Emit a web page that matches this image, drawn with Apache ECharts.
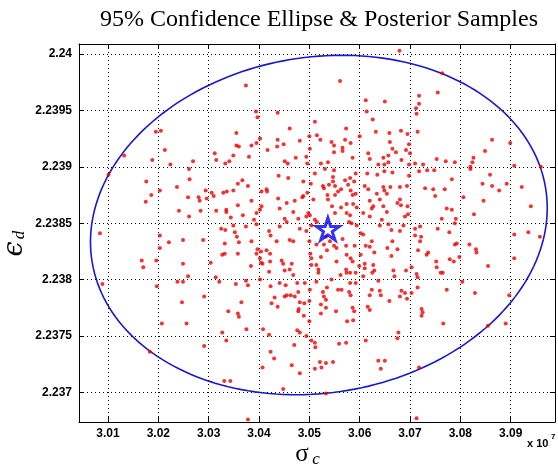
<!DOCTYPE html>
<html>
<head>
<meta charset="utf-8">
<script src="https://cdn.jsdelivr.net/npm/echarts@6/dist/echarts.min.js"></script>
<style>
  html, body { margin: 0; padding: 0; background: #fff; }
  #main { width: 558px; height: 468px; }
</style>
</head>
<body>
<div id="main"></div>
<script>
// sigma_c in units of 1e7, epsilon_d
const samples = [
  [3.0195,2.23931],[3.0205,2.23932],[3.0213,2.23915],[3.0132,2.23910],[3.0188,2.23906],[3.0224,2.23902],[3.0101,2.23893],[3.0176,2.23887],
  [3.0237,2.23882],[3.0203,2.23879],[3.0186,2.23875],[3.0175,2.23869],[3.0241,2.23861],[3.0084,2.23841],[3.0203,2.23839],[3.0221,2.23833],
  [3.0203,2.23828],[3.0167,2.23817],[3.0196,2.23817],[3.0170,2.23811],[3.0089,2.23796],[3.0238,2.23798],[3.0197,2.23794],[3.0207,2.23761],
  [3.0183,2.23736],
  [3.0394,2.23949],[3.0397,2.23944],[3.0437,2.23948],[3.0511,2.23940],[3.0461,2.23934],[3.0355,2.23930],[3.0500,2.23927],[3.0515,2.23928],
  [3.0402,2.23925],[3.0437,2.23924],[3.0355,2.23919],[3.0360,2.23918],[3.0385,2.23919],[3.0395,2.23921],[3.0449,2.23920],[3.0481,2.23923],
  [3.0436,2.23918],[3.0417,2.23915],[3.0501,2.23916],[3.0312,2.23912],[3.0349,2.23910],[3.0380,2.23909],[3.0315,2.23906],[3.0269,2.23905],
  [3.0341,2.23905],[3.0333,2.23903],[3.0451,2.23905],[3.0457,2.23903],[3.0473,2.23908],[3.0494,2.23909],[3.0496,2.23903],[3.0261,2.23898],
  [3.0511,2.23894],[3.0439,2.23892],[3.0458,2.23890],[3.0262,2.23889],[3.0367,2.23888],[3.0358,2.23885],[3.0488,2.23887],[3.0503,2.23885],
  [3.0294,2.23879],[3.0306,2.23877],[3.0310,2.23874],[3.0329,2.23877],[3.0336,2.23878],[3.0349,2.23879],[3.0378,2.23883],[3.0405,2.23878],
  [3.0415,2.23880],[3.0416,2.23878],[3.0259,2.23873],[3.0280,2.23873],[3.0282,2.23870],[3.0296,2.23872],[3.0385,2.23870],[3.0438,2.23872],
  [3.0471,2.23870],[3.0488,2.23874],[3.0486,2.23873],[3.0496,2.23877],[3.0508,2.23871],[3.0358,2.23866],[3.0405,2.23865],[3.0402,2.23862],
  [3.0455,2.23868],[3.0441,2.23863],[3.0284,2.23861],[3.0315,2.23861],[3.0335,2.23862],[3.0335,2.23860],[3.0368,2.23857],[3.0395,2.23859],
  [3.0261,2.23856],[3.0344,2.23855],[3.0468,2.23860],[3.0498,2.23859],[3.0501,2.23857],[3.0494,2.23856],[3.0390,2.23853],[3.0395,2.23849],
  [3.0451,2.23854],[3.0455,2.23851],[3.0478,2.23854],[3.0511,2.23853],[3.0515,2.23851],[3.0374,2.23847],[3.0325,2.23845],[3.0441,2.23847],
  [3.0481,2.23845],[3.0504,2.23848],[3.0349,2.23848],
  [3.0374,2.23972],[3.0679,2.24003],[3.0561,2.23976],[3.0764,2.23983],[3.0755,2.23966],[3.0718,2.23963],
  [3.0863,2.23924],[3.0899,2.23921],[3.0849,2.23914],[3.0826,2.23908],[3.0824,2.23904],[3.0907,2.23901],[3.0960,2.23900],[3.0820,2.23900],
  [3.0820,2.23898],[3.0859,2.23893],[3.0844,2.23885],[3.0863,2.23883],[3.0877,2.23879],[3.0892,2.23885],[3.0922,2.23882],[3.0846,2.23870],
  [3.0806,2.23873],[3.0827,2.23858],[3.0940,2.23865],[3.0907,2.23840],[3.0935,2.23842],[3.0958,2.23838],
  [3.0612,2.23959],[3.0650,2.23958],[3.0712,2.23952],[3.0713,2.23947],[3.0718,2.23956],[3.0614,2.23949],[3.0626,2.23942],[3.0573,2.23934],
  [3.0600,2.23927],[3.0632,2.23931],[3.0659,2.23930],[3.0682,2.23932],[3.0695,2.23929],[3.0715,2.23931],[3.0522,2.23924],[3.0544,2.23922],
  [3.0549,2.23919],[3.0571,2.23924],[3.0582,2.23921],[3.0566,2.23917],[3.0566,2.23914],[3.0549,2.23913],[3.0660,2.23922],[3.0665,2.23916],
  [3.0672,2.23913],[3.0698,2.23920],[3.0692,2.23915],[3.0700,2.23912],[3.0617,2.23912],[3.0620,2.23907],[3.0647,2.23908],[3.0657,2.23910],
  [3.0683,2.23906],[3.0586,2.23908],[3.0537,2.23904],[3.0523,2.23903],[3.0637,2.23902],[3.0649,2.23902],[3.0657,2.23904],[3.0698,2.23902],
  [3.0710,2.23903],[3.0726,2.23902],[3.0753,2.23907],[3.0771,2.23905],[3.0789,2.23904],[3.0531,2.23898],[3.0549,2.23897],[3.0592,2.23894],
  [3.0615,2.23894],[3.0649,2.23896],[3.0665,2.23895],[3.0635,2.23893],[3.0718,2.23896],[3.0734,2.23897],[3.0748,2.23897],[3.0783,2.23889],
  [3.0547,2.23891],[3.0547,2.23887],[3.0571,2.23888],[3.0581,2.23890],[3.0589,2.23887],[3.0698,2.23892],[3.0527,2.23883],[3.0529,2.23881],
  [3.0539,2.23884],[3.0551,2.23883],[3.0563,2.23880],[3.0557,2.23878],[3.0577,2.23884],[3.0582,2.23879],[3.0610,2.23883],[3.0617,2.23880],
  [3.0647,2.23882],[3.0649,2.23879],[3.0661,2.23882],[3.0680,2.23882],[3.0694,2.23883],[3.0730,2.23881],[3.0746,2.23880],[3.0750,2.23874],
  [3.0769,2.23880],[3.0536,2.23875],[3.0537,2.23871],[3.0551,2.23875],[3.0586,2.23875],[3.0592,2.23876],[3.0634,2.23876],[3.0640,2.23871],
  [3.0654,2.23876],[3.0620,2.23870],[3.0680,2.23871],[3.0675,2.23868],[3.0545,2.23865],[3.0563,2.23864],[3.0574,2.23867],[3.0587,2.23867],
  [3.0594,2.23864],[3.0624,2.23863],[3.0627,2.23865],[3.0647,2.23865],[3.0695,2.23865],[3.0682,2.23866],[3.0773,2.23863],[3.0783,2.23862],
  [3.0551,2.23859],[3.0574,2.23859],[3.0581,2.23857],[3.0607,2.23859],[3.0654,2.23860],[3.0690,2.23856],[3.0696,2.23858],[3.0620,2.23856],
  [3.0579,2.23851],[3.0584,2.23850],[3.0594,2.23848],[3.0644,2.23853],[3.0657,2.23849],[3.0640,2.23848],[3.0663,2.23844],[3.0687,2.23848],
  [3.0710,2.23845],[3.0720,2.23847],[3.0755,2.23845],[3.0763,2.23854],[3.0791,2.23854],[3.0789,2.23850],
  [3.0249,2.23835],[3.0289,2.23835],[3.0333,2.23844],[3.0352,2.23842],[3.0356,2.23838],[3.0360,2.23833],[3.0332,2.23832],[3.0385,2.23834],
  [3.0420,2.23843],[3.0423,2.23839],[3.0435,2.23834],[3.0461,2.23835],[3.0468,2.23834],[3.0494,2.23843],[3.0500,2.23834],[3.0514,2.23831],
  [3.0327,2.23822],[3.0332,2.23823],[3.0358,2.23823],[3.0397,2.23827],[3.0395,2.23823],[3.0404,2.23825],[3.0415,2.23826],[3.0422,2.23823],
  [3.0402,2.23819],[3.0404,2.23815],[3.0407,2.23814],[3.0422,2.23816],[3.0445,2.23817],[3.0448,2.23814],[3.0465,2.23814],[3.0502,2.23823],
  [3.0504,2.23819],[3.0504,2.23813],[3.0514,2.23813],[3.0518,2.23809],[3.0518,2.23806],[3.0304,2.23815],[3.0249,2.23814],[3.0384,2.23812],
  [3.0420,2.23807],[3.0451,2.23808],[3.0461,2.23809],[3.0468,2.23804],[3.0259,2.23803],[3.0249,2.23798],[3.0314,2.23802],[3.0321,2.23798],
  [3.0354,2.23796],[3.0374,2.23799],[3.0378,2.23795],[3.0402,2.23800],[3.0423,2.23794],[3.0441,2.23797],[3.0453,2.23795],[3.0476,2.23797],
  [3.0491,2.23797],[3.0501,2.23791],[3.0514,2.23798],[3.0247,2.23780],[3.0291,2.23785],[3.0365,2.23780],[3.0339,2.23772],[3.0358,2.23770],
  [3.0360,2.23767],[3.0425,2.23779],[3.0437,2.23776],[3.0431,2.23784],[3.0451,2.23785],[3.0455,2.23786],[3.0463,2.23786],[3.0471,2.23785],
  [3.0478,2.23789],[3.0481,2.23780],[3.0490,2.23779],[3.0500,2.23781],[3.0479,2.23774],[3.0478,2.23772],[3.0489,2.23768],[3.0500,2.23763],
  [3.0256,2.23761],[3.0375,2.23756],[3.0408,2.23756],[3.0327,2.23753],[3.0335,2.23746],[3.0420,2.23751],[3.0476,2.23755],[3.0481,2.23753],
  [3.0494,2.23750],[3.0504,2.23746],[3.0511,2.23744],[3.0512,2.23740],[3.0291,2.23741],[3.0470,2.23742],[3.0423,2.23736],[3.0430,2.23730],
  [3.0331,2.23710],[3.0343,2.23710],[3.0378,2.23676],[3.0448,2.23703],[3.0465,2.23724],[3.0481,2.23717],[3.0511,2.23721],[3.0521,2.23727],
  [3.0407,2.23722],
  [3.0533,2.23838],[3.0541,2.23834],[3.0529,2.23831],[3.0535,2.23826],[3.0549,2.23830],[3.0554,2.23828],[3.0566,2.23836],[3.0573,2.23830],
  [3.0590,2.23830],[3.0602,2.23841],[3.0607,2.23840],[3.0624,2.23834],[3.0612,2.23830],[3.0620,2.23829],[3.0602,2.23822],[3.0629,2.23824],
  [3.0680,2.23843],[3.0665,2.23834],[3.0655,2.23828],[3.0675,2.23827],[3.0663,2.23821],[3.0710,2.23839],[3.0722,2.23838],[3.0720,2.23834],
  [3.0716,2.23826],[3.0736,2.23824],[3.0733,2.23822],[3.0778,2.23842],[3.0789,2.23831],[3.0523,2.23820],[3.0554,2.23816],[3.0574,2.23822],
  [3.0582,2.23819],[3.0586,2.23816],[3.0599,2.23812],[3.0610,2.23814],[3.0610,2.23810],[3.0627,2.23813],[3.0629,2.23808],[3.0573,2.23809],
  [3.0562,2.23804],[3.0574,2.23806],[3.0581,2.23806],[3.0592,2.23806],[3.0607,2.23803],[3.0625,2.23806],[3.0637,2.23799],[3.0667,2.23808],
  [3.0669,2.23803],[3.0692,2.23808],[3.0703,2.23811],[3.0713,2.23805],[3.0715,2.23802],[3.0752,2.23816],[3.0753,2.23811],[3.0761,2.23806],
  [3.0765,2.23806],[3.0779,2.23818],[3.0787,2.23816],[3.0793,2.23832],[3.0544,2.23800],[3.0527,2.23789],[3.0535,2.23793],[3.0529,2.23785],
  [3.0533,2.23782],[3.0557,2.23791],[3.0564,2.23791],[3.0581,2.23797],[3.0579,2.23789],[3.0582,2.23786],[3.0592,2.23797],[3.0624,2.23791],
  [3.0620,2.23786],[3.0640,2.23790],[3.0642,2.23786],[3.0683,2.23790],[3.0690,2.23788],[3.0680,2.23785],[3.0694,2.23783],[3.0659,2.23781],
  [3.0715,2.23793],[3.0703,2.23788],[3.0773,2.23791],[3.0523,2.23778],[3.0533,2.23775],[3.0523,2.23770],[3.0553,2.23772],[3.0586,2.23775],
  [3.0589,2.23772],[3.0616,2.23776],[3.0620,2.23773],[3.0575,2.23763],[3.0587,2.23764],[3.0723,2.23774],[3.0725,2.23771],[3.0723,2.23768],
  [3.0766,2.23761],[3.0677,2.23753],[3.0675,2.23748],[3.0612,2.23746],[3.0559,2.23743],[3.0573,2.23744],
  [3.0907,2.23819],[3.0855,2.23812],[3.0804,2.23798],[3.0829,2.23788],[3.0897,2.23786],[3.0890,2.23761],[3.0855,2.23759],[3.0718,2.23722],
  [3.0637,2.23728],[3.0650,2.23728],[3.0642,2.23721],[3.0547,2.23727],[3.0533,2.23726],[3.0524,2.23722],[3.0533,2.23699],[3.0713,2.23677],
  [3.0818,2.23831],[3.0831,2.23827],[3.0832,2.23824],[3.0798,2.23820]
];

const starPoint = [3.05368, 2.238448];

// 95% ellipse: centre, half-widths along x and y, phase tilt
const ellipseCenter = [3.05189, 2.238484];
const ellipseRadii = [0.04537, 0.001505];
const ellipseTilt = 0.1;

const xRange = [3.00424, 3.0988];
const yRange = [2.236737, 2.240089];
const xTicks = [3.01, 3.02, 3.03, 3.04, 3.05, 3.06, 3.07, 3.08, 3.09];
const yTicks = [2.237, 2.2375, 2.238, 2.2385, 2.239, 2.2395, 2.24];

const chart = echarts.init(document.getElementById('main'));

const black = '#000';
const tickFont = { color: black, fontSize: 12, fontWeight: 'bold', fontFamily: 'Liberation Sans, Arial, sans-serif' };

function boxAxis(pos, range, ticks, main) {
  return {
    type: 'value',
    position: pos,
    min: range[0],
    max: range[1],
    axisLine: { show: true, onZero: false, lineStyle: { color: black, width: 1 } },
    axisTick: { show: true, inside: true, length: 5, customValues: ticks, lineStyle: { color: black, width: 1 } },
    axisLabel: main ? Object.assign({
      customValues: ticks,
      margin: pos === 'left' ? 7 : 6,
      formatter: v => String(parseFloat(v.toFixed(4)))
    }, tickFont) : { show: false },
    splitLine: main ? { show: true, lineStyle: { color: black, width: 1, type: [1, 3] } } : { show: false }
  };
}

const xb = boxAxis('bottom', xRange, xTicks, true);
xb.axisLabel.formatter = v => v.toFixed(2);

const option = {
  animation: false,
  backgroundColor: '#fff',
  grid: { left: 79, right: 3, top: 44, bottom: 46 },
  xAxis: [xb, boxAxis('top', xRange, xTicks, false)],
  yAxis: [boxAxis('left', yRange, yTicks, true), boxAxis('right', yRange, yTicks, false)],
  series: [
    {
      type: 'scatter',
      data: samples,
      symbol: 'circle',
      symbolSize: 4,
      itemStyle: { color: '#ee0000' },
      silent: true
    },
    {
      type: 'custom',
      data: [ellipseCenter],
      clip: true,
      silent: true,
      renderItem: function (params, api) {
        const pts = [];
        for (let i = 0; i <= 200; i++) {
          const t = i / 200 * Math.PI * 2;
          pts.push(api.coord([
            ellipseCenter[0] + ellipseRadii[0] * Math.cos(t),
            ellipseCenter[1] + ellipseRadii[1] * Math.sin(t + ellipseTilt)
          ]));
        }
        return {
          type: 'polyline',
          shape: { points: pts },
          style: { stroke: '#1818cc', lineWidth: 1.6, fill: null }
        };
      }
    },
    {
      type: 'scatter',
      data: [starPoint],
      symbol: 'path://M50 0 L61.23 34.55 L97.55 34.55 L68.16 55.9 L79.39 90.45 L50 69.1 L20.61 90.45 L31.84 55.9 L2.45 34.55 L38.77 34.55 Z',
      symbolSize: [23, 22],
      z: 5,
      itemStyle: { color: 'rgba(0,0,0,0)', borderColor: '#0000ee', borderWidth: 3 },
      silent: true
    }
  ],
  graphic: [
    {
      type: 'text', x: 319, y: 20,
      style: { text: '95% Confidence Ellipse & Posterior Samples', fontSize: 24, fontFamily: 'Liberation Serif, Times New Roman, serif', fill: black, align: 'center', verticalAlign: 'middle' }
    },
    {
      type: 'text', x: 15, y: 249, rotation: Math.PI / 2,
      style: { text: 'ϵ', fontSize: 27, fontStyle: 'italic', fontFamily: 'DejaVu Serif, serif', fill: black, align: 'center', verticalAlign: 'middle' }
    },
    {
      type: 'text', x: 20, y: 235, rotation: Math.PI / 2,
      style: { text: 'd', fontSize: 17, fontStyle: 'italic', fontFamily: 'Liberation Serif, serif', fill: black, align: 'center', verticalAlign: 'middle' }
    },
    {
      type: 'text', x: 302, y: 454,
      style: { text: 'σ', fontSize: 25, fontFamily: 'Liberation Serif, DejaVu Serif, serif', fill: black, align: 'center', verticalAlign: 'middle' }
    },
    {
      type: 'text', x: 316, y: 460,
      style: { text: 'c', fontSize: 17, fontStyle: 'italic', fontFamily: 'Liberation Serif, serif', fill: black, align: 'center', verticalAlign: 'middle' }
    },
    {
      type: 'text', x: 527, y: 444,
      style: { text: 'x 10', fontSize: 11, fontWeight: 'bold', fontFamily: 'Liberation Sans, Arial, sans-serif', fill: black, align: 'left', verticalAlign: 'middle' }
    },
    {
      type: 'text', x: 551, y: 437,
      style: { text: '7', fontSize: 8, fontWeight: 'bold', fontFamily: 'Liberation Sans, Arial, sans-serif', fill: black, align: 'left', verticalAlign: 'middle' }
    }
  ]
};

chart.setOption(option);
</script>
</body>
</html>
